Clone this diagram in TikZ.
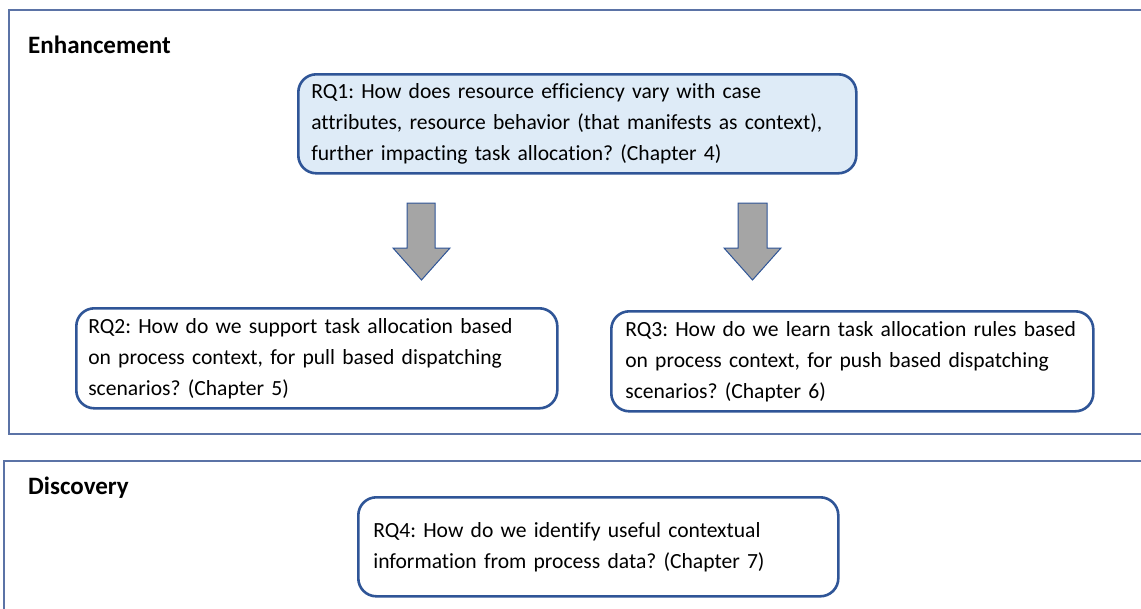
\documentclass[tikz,border=0pt]{standalone}
\usepackage{fontspec}
\setmainfont{Carlito}[Ligatures=NoCommon]
\frenchspacing
\begin{document}
\begin{tikzpicture}[x=1pt,y=-1pt,
  frame/.style={draw=framecol,line width=1.6pt},
  rqbox/.style={draw=boxcol,line width=2.6pt,rounded corners=18pt,fill=white,
    align=left,inner xsep=12pt,inner ysep=0pt,anchor=north west,
    font=\fontsize{21.6}{31}\selectfont},
  heading/.style={font=\fontsize{25}{29}\selectfont\bfseries,anchor=base west,inner sep=0pt},
  blockarrow/.style={fill=arrowgray,draw=boxcol,line width=1pt,line join=miter}]
\definecolor{framecol}{HTML}{5B73A6}
\definecolor{boxcol}{HTML}{2F5597}
\definecolor{lightblue}{HTML}{DEEBF7}
\definecolor{arrowgray}{HTML}{A5A5A5}
\useasboundingbox (0,0) rectangle (1141,608);

% section frames (right edge runs off the page)
\draw[frame] (1150,10) -- (9,10) -- (9,434) -- (1150,434);
\draw[frame] (1150,461) -- (4,461) -- (4,615);

\node[heading] (enh) at (28,53) {Enhancement};
\node[heading] (disc) at (28,494) {Discovery};

% research questions
\node[rqbox,fill=lightblue,minimum width=558pt,minimum height=99pt,text width=532pt] (rq1) at (297,73)
  {RQ1: How does resource efficiency vary with case\\attributes, resource behavior (that manifests as context),\\further impacting task allocation? (Chapter 4)};
\node[rqbox,minimum width=481pt,minimum height=100pt,text width=457pt] (rq2) at (75,307)
  {RQ2: How do we support task allocation based\\on process context, for pull based dispatching\\scenarios? (Chapter 5)};
\node[rqbox,minimum width=480pt,minimum height=100pt,text width=454pt,inner xsep=14pt] (rq3) at (610,310)
  {RQ3: How do we learn task allocation rules based\\on process context, for push based dispatching\\scenarios? (Chapter 6)};
\node[rqbox,minimum width=480pt,minimum height=99pt,text width=450pt,inner xsep=15pt] (rq4) at (357,496)
  {RQ4: How do we identify useful contextual\\information from process data? (Chapter 7)};

% block arrows from RQ1 towards RQ2 and RQ3
\draw[blockarrow] (407,203) -- (435,203) -- (435,248) -- (450,248) -- (421.5,280)
  -- (393,248) -- (407,248) -- cycle;
\draw[blockarrow] (738,203) -- (767,203) -- (767,248) -- (781,248) -- (752.5,280)
  -- (724,248) -- (738,248) -- cycle;
\end{tikzpicture}
\end{document}
